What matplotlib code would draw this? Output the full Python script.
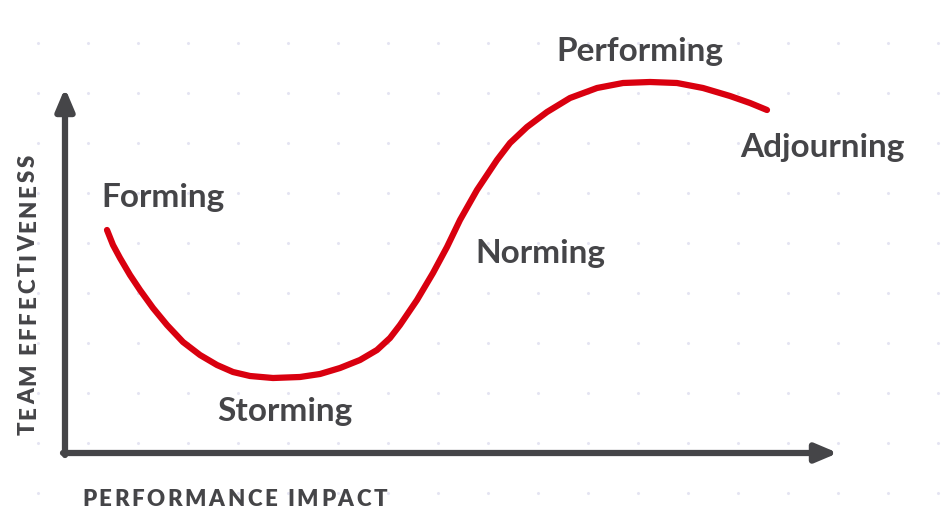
import matplotlib
matplotlib.use("Agg")
import matplotlib.pyplot as plt
from matplotlib import font_manager

# Curva del modelo de Tuckman (en píxeles)
curva_x = [107, 113, 120, 130, 140, 153, 167, 183, 200, 217, 233, 250, 273,
           300, 320, 340, 360, 377, 390, 400, 417, 433, 447, 460, 477, 497,
           510, 527, 547, 570, 597, 623, 650, 677, 703, 730, 750, 767]
curva_y = [230, 245, 258, 275, 290, 308, 325, 342, 355, 365, 372, 376, 378,
           377, 374, 368, 360, 350, 338, 325, 300, 273, 247, 220, 190, 160,
           143, 127, 112, 98, 88, 83, 82, 83, 88, 96, 103, 110]

etapas = ["Forming", "Storming", "Norming", "Performing", "Adjourning"]
etapas_x = [101, 217, 475, 556, 740]
etapas_y = [207, 421, 263, 61, 157]

eje_x_texto = "PERFORMANCE IMPACT"
eje_y_texto = "TEAM EFFECTIVENESS"

GRIS = "#454548"
ROJO = "#d9000f"


def fuente_lato(peso, tam):
    for f in font_manager.fontManager.ttflist:
        if f.name == "Lato" and f.weight == peso and f.style == "normal":
            return font_manager.FontProperties(fname=f.fname, size=tam)
    return font_manager.FontProperties(family="Lato", weight=peso, size=tam)


def texto_espaciado(ax, x, y, s, largo, fp, vertical=False, **kw):
    # dibuja letra a letra para imitar el letter-spacing,
    # repartiendo el espacio extra para que ocupe 'largo' píxeles
    r = ax.figure.canvas.get_renderer()

    def ancho(t):
        tmp = ax.text(0, 0, t, fontproperties=fp)
        w = tmp.get_window_extent(renderer=r).width
        tmp.remove()
        return w

    base = ancho("|")
    inicio = [ancho(s[:i] + "|") - base if i else 0.0 for i in range(len(s))]
    total = ancho(s)
    espacio = (largo - total) / (len(s) - 1)
    for i, c in enumerate(s):
        if c == " ":
            continue
        pos = inicio[i] + i * espacio
        if vertical:
            ax.text(x, y - pos, c, rotation=90, rotation_mode="anchor",
                    ha="left", va="baseline", fontproperties=fp, **kw)
        else:
            ax.text(x + pos, y, c, ha="left", va="baseline",
                    fontproperties=fp, **kw)


fig = plt.figure(figsize=(9.49, 5.23), dpi=100)
ax = fig.add_axes([0, 0, 1, 1])
ax.set_xlim(0, 949)
ax.set_ylim(523, 0)
ax.axis("off")

# puntitos de fondo
for gx in range(38, 949, 50):
    for gy in range(43, 523, 50):
        ax.plot(gx, gy, "o", ms=2.2, color="#e4e4f2", mec="none", zorder=0)

# ejes con flecha
ax.annotate("", xy=(838, 453), xytext=(63, 453),
            arrowprops=dict(arrowstyle="-|>,head_length=1.3,head_width=0.55",
                            lw=4.5, color=GRIS, shrinkA=0, shrinkB=0))
ax.annotate("", xy=(65, 88), xytext=(65, 455),
            arrowprops=dict(arrowstyle="-|>,head_length=1.3,head_width=0.55",
                            lw=4.5, color=GRIS, shrinkA=0, shrinkB=0))

ax.plot(curva_x, curva_y, color=ROJO, lw=4.5, solid_capstyle="round",
        solid_joinstyle="round", zorder=3)

fp_etapa = fuente_lato(700, 24)
for nombre, tx, ty in zip(etapas, etapas_x, etapas_y):
    ax.text(tx, ty, nombre, fontproperties=fp_etapa, color=GRIS,
            ha="left", va="baseline")

fp_eje = fuente_lato(800, 16)
texto_espaciado(ax, 82, 506, eje_x_texto, 305, fp_eje, color=GRIS)
texto_espaciado(ax, 35, 435, eje_y_texto, 280, fp_eje, vertical=True,
                color=GRIS)

fig.savefig("out.png", dpi=100)
